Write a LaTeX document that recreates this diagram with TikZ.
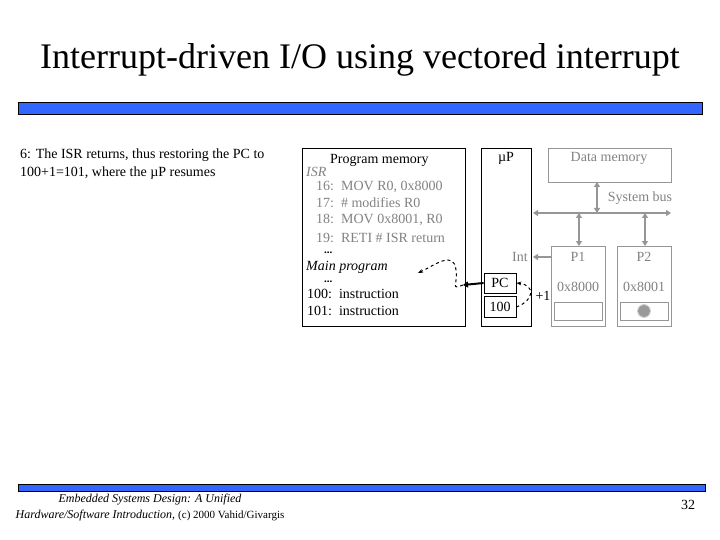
\documentclass[tikz,border=0pt]{standalone}
\usepackage{fontspec}
\setmainfont{Liberation Serif}
\usetikzlibrary{arrows.meta}
\definecolor{barblue}{RGB}{51,102,255}
\definecolor{gtxt}{RGB}{130,130,130}
\definecolor{gline}{RGB}{150,150,150}
\begin{document}
\begin{tikzpicture}[x=1pt,y=-1pt,
  txt/.style={inner sep=0pt,anchor=west,font=\fontsize{14}{16}\selectfont},
  lbl/.style={inner sep=0pt,font=\fontsize{14}{16}\selectfont},
  gbox/.style={draw=gline,line width=0.8pt},
  bbox/.style={draw=black,line width=0.8pt},
  garr/.style={draw=gline,line width=2pt,{Triangle[length=5pt,width=6pt]}-{Triangle[length=5pt,width=6pt]}},
  dsh/.style={dashed,line width=1pt,-{Stealth[length=5pt]}}]
\useasboundingbox (0,0) rectangle (720,540);
\node[inner sep=0pt,font=\fontsize{36}{40}\selectfont] (title) at (360,60) {Interrupt-driven I/O using vectored interrupt};
\draw[fill=barblue,draw=black,line width=0.6pt] (18,102) rectangle (702,114);
\draw[fill=barblue,draw=black,line width=0.5pt] (18,484) rectangle (705,491);
\node[txt,anchor=north west,align=left,font=\fontsize{14}{18}\selectfont] (desc) at (20,149) {6: The ISR returns, thus restoring the PC to\\100+1=101, where the µP resumes};
\node[inner sep=0pt,align=center,font=\fontsize{12}{16}\itshape] (foot) at (150,508) {Embedded Systems Design: A Unified\\Hardware/Software Introduction, {\upshape\fontsize{11}{12}\selectfont(c) 2000 Vahid/Givargis}};
\node[inner sep=0pt,font=\fontsize{14}{16}\selectfont] (pg) at (688,505) {32};
% program memory
\draw[bbox] (302,148) rectangle (465,326);
\node[txt] (pmt) at (330,160) {Program memory};
\node[txt,text=gtxt,font=\fontsize{14}{16}\itshape] (isr) at (306,172) {ISR};
\node[txt,text=gtxt] (l16) at (316,187) {16:\ \ MOV R0, 0x8000};
\node[txt,text=gtxt] (l17) at (316,203) {17:\ \ \# modifies R0};
\node[txt,text=gtxt] (l18) at (316,220) {18:\ \ MOV 0x8001, R0};
\node[txt,text=gtxt] (l19) at (316,238) {19:\ \ RETI \# ISR return};
\node[txt,anchor=base west,font=\fontsize{11}{12}\bfseries] (d1) at (324,254) {...};
\node[txt,font=\fontsize{14}{16}\itshape] (mp) at (306,267) {Main program};
\node[txt,anchor=base west,font=\fontsize{11}{12}\bfseries] (d2) at (324,282) {...};
\node[txt] (l100) at (307,294) {100:\ \ instruction};
\node[txt] (l101) at (307,311) {101:\ \ instruction};
% uP
\draw[bbox] (481,148) rectangle (531,326);
\node[lbl] (up) at (506,158) {µP};
\node[bbox,minimum width=32pt,minimum height=20pt,inner sep=0pt,font=\fontsize{14}{16}\selectfont] (pc) at (500,283) {PC};
\node[bbox,minimum width=32pt,minimum height=21pt,inner sep=0pt,font=\fontsize{14}{16}\selectfont] (hund) at (500,307) {100};
\coordinate (pcl) at (463,285);
\draw[line width=2pt,-{Triangle[length=5pt,width=6pt]}] (pc.west) -- (pcl);
\node[lbl] (plus) at (543,296) {+1};
\draw[dsh] (hund.east) .. controls (535,300) and (535,285) .. (pc.east);
\coordinate (mpe) at (418,273);
\draw[dsh] (pcl) .. controls (450,290) and (458,285) .. (456,270) .. controls (454,250) and (435,265) .. (mpe);
% data memory, bus
\draw[gbox] (548,148) rectangle (671,182);
\node[lbl,text=gtxt] (dm) at (609,158) {Data memory};
\coordinate (bl) at (533,213);
\coordinate (br) at (671,213);
\draw[garr] (bl) -- (br);
\node[lbl,text=gtxt] (sb) at (640,198) {System bus};
\draw[garr] (597,182) -- (597,213);
% P1 P2
\draw[gbox] (551,246) rectangle (605,326);
\draw[gbox] (617,246) rectangle (671,326);
\node[lbl,text=gtxt] (p1) at (578,257) {P1};
\node[lbl,text=gtxt] (p2) at (644,257) {P2};
\node[lbl,text=gtxt] (a1) at (578,287) {0x8000};
\node[lbl,text=gtxt] (a2) at (644,287) {0x8001};
\draw[gbox] (554,302) rectangle (602,320);
\draw[gbox] (620,302) rectangle (668,320);
\fill[gray!80] (644,311) circle (6pt);
\draw[gray!40,line width=0.8pt] (644,311) circle (6.5pt);
\draw[garr] (579,213) -- (579,246);
\draw[garr] (645,213) -- (645,246);
\node[lbl,text=gtxt] (int) at (520,257) {Int};
\draw[draw=gline,line width=2pt,-{Triangle[length=5pt,width=6pt]}] (551,257) -- (533,257);
\end{tikzpicture}
\end{document}
